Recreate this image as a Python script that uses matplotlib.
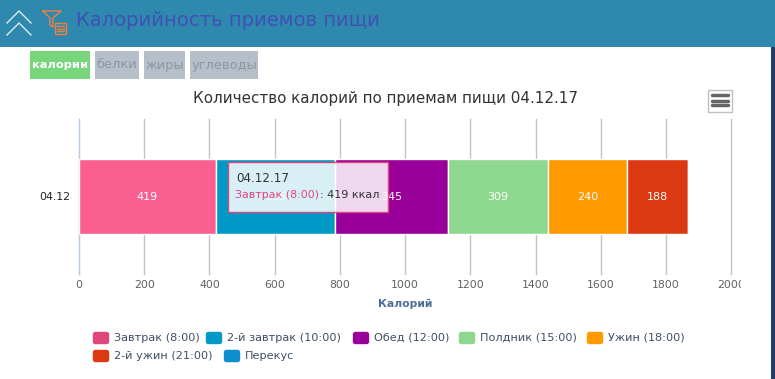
import matplotlib
matplotlib.use('Agg')
import matplotlib.pyplot as plt
from matplotlib.patches import Rectangle, FancyBboxPatch

# --- Data ---
CATEGORIES = ['04.12']
SERIES_NAMES = ['Завтрак (8:00)', '2-й завтрак (10:00)', 'Обед (12:00)',
                'Полдник (15:00)', 'Ужин (18:00)', '2-й ужин (21:00)', 'Перекус']
SERIES_VALUES = [419, 366, 345, 309, 240, 188, 0]
BAR_COLORS = ['#fb5f92', '#0099c6', '#990099', '#8dd78f', '#ff9900', '#dc3912', '#0d8ecf']
LEGEND_COLORS = ['#e0457b', '#0099c6', '#990099', '#8dd78f', '#ff9900', '#dc3912', '#0d8ecf']
X_TICKS = [0, 200, 400, 600, 800, 1000, 1200, 1400, 1600, 1800, 2000]
TABS = ['калории', 'белки', 'жиры', 'углеводы']

W, H = 775, 379
plt.rcParams['font.family'] = ['DejaVu Sans']
fig = plt.figure(figsize=(W / 100, H / 100), dpi=100)

# overlay in pixel coordinates for the page around the chart
page = fig.add_axes([0, 0, 1, 1], zorder=0)
page.set_xlim(0, W)
page.set_ylim(H, 0)
page.axis('off')

# header
page.add_patch(Rectangle((0, 0), W, 47, color='#2f88ae', lw=0))
page.add_patch(Rectangle((771, 47), 4, H - 47, color='#1f4060', lw=0))
page.plot([7, 19, 31], [23, 11, 23], color='#d8ecf2', lw=1)
page.plot([7, 19, 31], [35, 23, 35], color='#d8ecf2', lw=1)
page.plot([43, 61, 53, 53, 50, 50, 43], [11, 11, 18, 27, 25, 18, 11], color='#f08040', lw=1)
page.add_patch(Rectangle((55, 23), 11, 11, fill=False, ec='#f08040', lw=1))
for yy in [26, 28.5, 31]:
    page.plot([57, 64], [yy, yy], color='#f08040', lw=1)
page.text(76, 21, 'Калорийность приемов пищи', color='#3f51b5', fontsize=14.15, va='center')

# tabs
tab_x = [30, 95, 144, 190]
tab_w = [60, 44, 41, 68]
for i, name in enumerate(TABS):
    active = i == 0
    page.add_patch(Rectangle((tab_x[i], 51), tab_w[i], 28, lw=0,
                             color='#77d67b' if active else '#b5bec9'))
    page.text(tab_x[i] + tab_w[i] / 2, 65, name, ha='center', va='center',
              fontsize=8.2 if active else 9.4,
              color='white' if active else '#8f979f', fontweight='bold' if active else 'normal')

# title and menu button
page.text(385.5, 98, 'Количество калорий по приемам пищи 04.12.17', ha='center', va='center',
          fontsize=10.9, color='#333333')
page.add_patch(Rectangle((707.5, 89.5), 24, 22, fill=False, ec='#c0c0c0', lw=1))
for yy in [95, 100.5, 105]:
    page.plot([712, 728], [yy, yy], color='#666666', lw=2.5, solid_capstyle='round')

# chart
ax = fig.add_axes([79 / W, 1 - 274 / H, (731.3 - 79) / W, (274 - 119) / H], zorder=1)
ax.patch.set_alpha(0)
ax.set_xlim(0, 2000)
ax.set_ylim(-0.5, 0.5)
left = 0
for val, col in zip(SERIES_VALUES, BAR_COLORS):
    ax.barh(0, val, left=left, height=0.48, color=col, edgecolor='white', linewidth=1, zorder=3)
    if val > 0:
        ax.text(left + val / 2, 0, str(val), color='white', ha='center', va='center',
                fontsize=8, zorder=4)
    left += val

ax.set_xticks(X_TICKS)
ax.set_yticks([0])
ax.set_yticklabels(CATEGORIES, fontsize=7.8, color='#222222')
ax.grid(axis='x', color='#c4c4c4', lw=1, zorder=0)
for gl in ax.get_xgridlines():
    gl.set_clip_on(False)
ax.tick_params(axis='both', length=0)
ax.tick_params(axis='x', labelsize=7.8, labelcolor='#606060', pad=4)
ax.tick_params(axis='y', pad=6)
for s in ['top', 'right', 'bottom']:
    ax.spines[s].set_visible(False)
ax.spines['left'].set_color('#b8cbe0')

# top overlay for axis title, legend and tooltip
top = fig.add_axes([0, 0, 1, 1], zorder=2)
top.set_xlim(0, W)
top.set_ylim(H, 0)
top.axis('off')
top.patch.set_alpha(0)
# last tick label is cut off in the reference
top.add_patch(Rectangle((741, 275), 25, 20, color='white', lw=0))
top.text(405.5, 304, 'Калорий', ha='center', va='center', fontsize=7.8, fontweight='bold',
         color='#4d6d94')

legend_x = [93, 206, 353, 459, 587, 93, 224]
legend_y = [338, 338, 338, 338, 338, 356, 356]
for name, col, lx, ly in zip(SERIES_NAMES, LEGEND_COLORS, legend_x, legend_y):
    top.add_patch(FancyBboxPatch((lx + 0.5, ly - 5.5), 15, 11, boxstyle='round,pad=0,rounding_size=2',
                                 fc=col, ec=col, lw=1))
    top.text(lx + 21, ly, name, va='center', fontsize=8.15, color='#3d4f66')

top.add_patch(Rectangle((228, 162), 160, 50, fc='white', lw=0, alpha=0.85))
top.add_patch(Rectangle((228, 162), 160, 50, fill=False, ec='#e0457b', lw=1))
top.text(236, 178, '04.12.17', va='center', fontsize=8.6, color='#333333')
top.text(235, 195, 'Завтрак (8:00)', va='center', fontsize=7.9, color='#e0457b')
top.text(320, 195, ': 419 ккал', va='center', fontsize=8, color='#333333')

fig.savefig('out.png', dpi=100)
